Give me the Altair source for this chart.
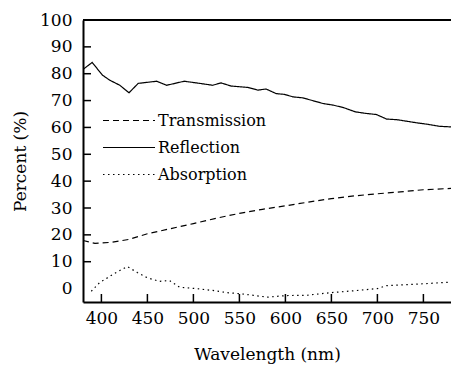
import altair as alt
import pandas as pd

FONT = "DejaVu Serif"

# ---- data ----
series_names = ["Transmission", "Reflection", "Absorption"]

wl_T = [380, 393, 410, 430, 450, 475, 500, 525, 550, 575, 600, 625, 650, 675, 700, 725, 750, 780]
val_T = [17.9, 16.8, 17.2, 18.3, 20.4, 22.3, 24.2, 26.2, 28.0, 29.5, 30.8, 32.2, 33.5, 34.5, 35.3, 36.0, 36.8, 37.3]

wl_R = [380, 390, 401, 409, 420, 430, 440, 460, 471, 490, 507, 521, 530, 541, 559, 570, 579,
        590, 599, 608, 619, 641, 652, 663, 676, 688, 699, 710, 721, 743, 754, 768, 780]
val_R = [81.6, 84.2, 79.5, 77.6, 75.7, 72.9, 76.4, 77.2, 75.7, 77.2, 76.4, 75.7, 76.6, 75.4, 74.9, 73.9, 74.3,
         72.6, 72.3, 71.4, 71.0, 68.9, 68.3, 67.4, 65.8, 65.2, 64.8, 63.1, 62.9, 61.7, 61.2, 60.4, 60.2]

wl_A = [389, 398, 414, 428, 439, 450, 463, 474, 485, 503, 521, 536, 550, 565, 580, 601, 623, 647, 675, 700, 710, 740, 780]
val_A = [-1.0, 2.2, 5.6, 8.2, 6.0, 4.0, 2.7, 3.0, 0.5, 0.0, -0.7, -1.5, -1.9, -2.5, -3.2, -2.6, -2.5, -1.6, -0.8, 0.0, 1.1, 1.6, 2.4]

x_ticks = [400, 450, 500, 550, 600, 650, 700, 750]
y_labels = [0, 10, 20, 30, 40, 50, 60, 70, 80, 90, 100]
y_ticks = [10, 20, 30, 40, 50, 60, 70, 80, 90]
top_line = [100]

rows = []
for name, ws, vs in zip(series_names, [wl_T, wl_R, wl_A], [val_T, val_R, val_A]):
    for w, v in zip(ws, vs):
        rows.append({"wl": w, "val": v, "series": name})
df = pd.DataFrame(rows)

W, H = 368, 282

xscale = alt.Scale(domain=[380, 780], nice=False, zero=False)
yscale = alt.Scale(domain=[-5, 100], nice=False, zero=False)

x_axis = alt.Axis(values=x_ticks, title="Wavelength (nm)", ticks=False, grid=False,
                  labelPadding=8, titlePadding=20, domainWidth=2, labelOverlap=False)
y_axis = alt.Axis(values=y_labels, title="Percent (%)", ticks=False, grid=False,
                  labelPadding=11, titlePadding=10, domainWidth=2, labelOverlap=False)

lines = alt.Chart(df).mark_line(color="black", strokeWidth=1.2, clip=True).encode(
    x=alt.X("wl:Q", scale=xscale, axis=x_axis),
    y=alt.Y("val:Q", scale=yscale, axis=y_axis),
    strokeDash=alt.StrokeDash(
        "series:N",
        scale=alt.Scale(domain=series_names, range=[[6, 4], [1, 0], [1.5, 3.5]]),
        legend=alt.Legend(title=None, orient="none", legendX=19, legendY=87,
                          symbolType="stroke", symbolSize=2704, symbolStrokeWidth=1.2,
                          symbolStrokeColor="black", labelFont=FONT, labelFontSize=16,
                          labelColor="black", labelOffset=2, clipHeight=27, rowPadding=0),
    ),
)

ytick = alt.Chart(pd.DataFrame({"val": y_ticks})).mark_rule(
    color="black", strokeWidth=1.5).encode(
    y=alt.Y("val:Q", scale=yscale, axis=y_axis), x=alt.value(0), x2=alt.value(8))
xtick = alt.Chart(pd.DataFrame({"wl": x_ticks})).mark_rule(color="black", strokeWidth=1.5).encode(
    x=alt.X("wl:Q", scale=xscale, axis=x_axis), y=alt.value(H), y2=alt.value(H - 8))
top = alt.Chart(pd.DataFrame({"val": top_line})).mark_rule(color="black", strokeWidth=2).encode(
    y=alt.Y("val:Q", scale=yscale, axis=y_axis), x=alt.value(0), x2=alt.value(W))

chart = alt.layer(lines, ytick, xtick, top).properties(
    width=W, height=H,
    autosize=alt.AutoSizeParams(type="none"),
    padding={"left": 83, "top": 20, "right": 0, "bottom": 65},
).configure_view(stroke=None).configure_axis(
    labelFont=FONT, labelFontSize=17, labelColor="black",
    titleFont=FONT, titleFontSize=17, titleColor="black", titleFontWeight="normal",
    domainColor="black",
)

chart.save("out.html", embed_options={"renderer": "svg", "actions": False})
